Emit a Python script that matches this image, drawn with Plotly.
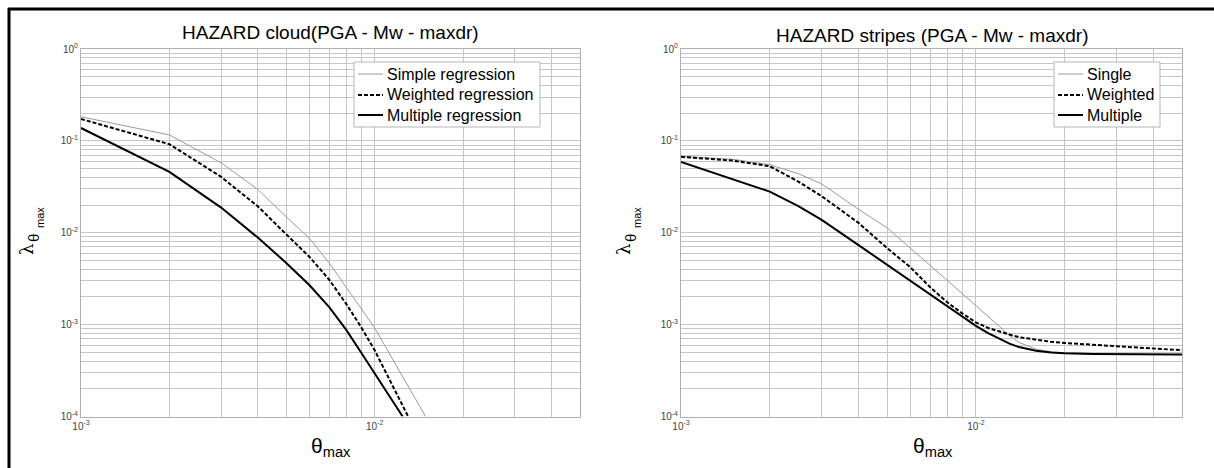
import plotly.graph_objects as go

# ---------------- data ----------------
# Left panel: HAZARD cloud
cloud_x = [0.001, 0.002, 0.003, 0.004, 0.005, 0.006, 0.007, 0.008, 0.009, 0.010]
cloud_simple = [0.183, 0.116, 0.0577, 0.0296, 0.0149, 0.00865, 0.0047, 0.00258, 0.00148, 0.00092]
cloud_weighted = [0.173, 0.092, 0.0406, 0.0194, 0.0096, 0.00545, 0.00308, 0.00168, 0.000935, 0.000525]
cloud_multiple = [0.138, 0.046, 0.0188, 0.00886, 0.00469, 0.00268, 0.00155, 0.000875, 0.000495, 0.000294]
# points where each curve reaches the bottom of the axis
cloud_simple_end = (0.0149, 0.0001)
cloud_weighted_end = (0.0130, 0.0001)
cloud_multiple_end = (0.01245, 0.0001)

# Right panel: HAZARD stripes
stripes_x = [0.001, 0.0015, 0.002, 0.0025, 0.003, 0.004, 0.005, 0.006, 0.007, 0.008, 0.009,
             0.010, 0.011, 0.012, 0.013, 0.014, 0.016, 0.018, 0.020, 0.025, 0.030, 0.040, 0.050]
stripes_single = [0.068, 0.063, 0.055, 0.044, 0.034, 0.018, 0.0113, 0.0067, 0.0044, 0.00303, 0.00218,
                  0.00162, 0.00124, 0.00096, 0.00076, 0.00064, 0.00054, 0.000505, 0.00049, 0.00048, 0.000476, 0.000473, 0.000472]
stripes_weighted = [0.067, 0.061, 0.053, 0.036, 0.025, 0.0128, 0.0068, 0.0042, 0.00255, 0.00175, 0.00132,
                    0.00106, 0.00092, 0.00084, 0.00078, 0.00073, 0.00068, 0.00065, 0.000632, 0.000605, 0.000585, 0.00055, 0.000526]
stripes_multiple = [0.059, 0.0385, 0.028, 0.0195, 0.0138, 0.00733, 0.00449, 0.0030, 0.00212, 0.00157, 0.00122,
                    0.00097, 0.00081, 0.00070, 0.00062, 0.00057, 0.00052, 0.000498, 0.000488, 0.00048, 0.000476, 0.000473, 0.000472]

cloud_names = ["Simple regression", "Weighted regression", "Multiple regression"]
stripes_names = ["Single", "Weighted", "Multiple"]

title_left = "HAZARD cloud(PGA - Mw - maxdr)"
title_right = "HAZARD stripes (PGA - Mw - maxdr)"

x_tickvals = [0.001, 0.01]
x_ticktext = ["10<sup>-3</sup>", "10<sup>-2</sup>"]
y_tickvals = [1e-4, 1e-3, 1e-2, 1e-1, 1]
y_ticktext = ["10<sup>-4</sup>", "10<sup>-3</sup>", "10<sup>-2</sup>", "10<sup>-1</sup>", "10<sup>0</sup>"]

# ---------------- figure ----------------
W, H = 1214, 468
FONT = "Liberation Sans, Arial, sans-serif"


def px(x):
    return x / W


def py(y):
    return 1 - y / H


styles = [
    dict(color="#9a9a9a", width=1),
    dict(color="black", width=2, dash="4px,2px"),
    dict(color="black", width=2),
]

fig = go.Figure()

cloud_ys = [cloud_simple, cloud_weighted, cloud_multiple]
cloud_ends = [cloud_simple_end, cloud_weighted_end, cloud_multiple_end]
for name, ys, end, st in zip(cloud_names, cloud_ys, cloud_ends, styles):
    fig.add_trace(go.Scatter(x=cloud_x + [end[0]], y=ys + [end[1]], mode="lines",
                             name=name, line=st, xaxis="x", yaxis="y", showlegend=False))

stripes_ys = [stripes_single, stripes_weighted, stripes_multiple]
for name, ys, st in zip(stripes_names, stripes_ys, styles):
    fig.add_trace(go.Scatter(x=stripes_x, y=ys, mode="lines",
                             name=name, line=st, xaxis="x2", yaxis="y2", showlegend=False))

grid_col = "#c6c6c6"
axis_common = dict(
    type="log", showgrid=True, gridcolor=grid_col, gridwidth=1,
    minor=dict(dtick="D1", showgrid=True, gridcolor=grid_col, gridwidth=1, ticks=""),
    showline=True, linecolor="#b0b0b0", linewidth=1, mirror=True,
    ticks="", zeroline=False, automargin=False,
    tickfont=dict(family=FONT, size=10, color="#444"),
)

ydom = [py(416.5), py(49)]
fig.update_layout(
    width=W, height=H,
    margin=dict(l=0, r=0, t=0, b=0, autoexpand=False),
    paper_bgcolor="white", plot_bgcolor="white",
    font=dict(family=FONT, color="black"),
    showlegend=False,
    xaxis=dict(domain=[px(81), px(580)], range=[-3, -1.30103], anchor="y",
               tickvals=x_tickvals, ticktext=x_ticktext, **axis_common),
    yaxis=dict(domain=ydom, range=[-4, 0], anchor="x",
               tickvals=y_tickvals, ticktext=y_ticktext, **axis_common),
    xaxis2=dict(domain=[px(681), px(1182)], range=[-3, -1.30103], anchor="y2",
                tickvals=x_tickvals, ticktext=x_ticktext, **axis_common),
    yaxis2=dict(domain=ydom, range=[-4, 0], anchor="x2",
                tickvals=y_tickvals, ticktext=y_ticktext, **axis_common),
)

annotations = [
    dict(text=title_left, x=px(330), y=py(33),
         font=dict(family=FONT, size=19, color="black")),
    dict(text=title_right, x=px(932), y=py(36),
         font=dict(family=FONT, size=19, color="black")),
    # x axis titles
    dict(text="θ<sub>max</sub>", x=px(331), y=py(447),
         font=dict(family=FONT, size=21, color="black")),
    dict(text="θ<sub>max</sub>", x=px(933), y=py(447),
         font=dict(family=FONT, size=21, color="black")),
    # y axis titles (lambda with nested subscripts)
    dict(text="λ", x=px(26), y=py(250), textangle=-90,
         font=dict(family="DejaVu Serif", size=18, color="black")),
    dict(text="θ", x=px(33), y=py(238), textangle=-90,
         font=dict(family=FONT, size=15, color="black")),
    dict(text="max", x=px(40), y=py(218), textangle=-90,
         font=dict(family=FONT, size=11, color="black")),
    dict(text="λ", x=px(623), y=py(250), textangle=-90,
         font=dict(family="DejaVu Serif", size=18, color="black")),
    dict(text="θ", x=px(630), y=py(238), textangle=-90,
         font=dict(family=FONT, size=15, color="black")),
    dict(text="max", x=px(637), y=py(218), textangle=-90,
         font=dict(family=FONT, size=11, color="black")),
]

shapes = []
# hand-drawn legends (box, line samples, labels)
legend_specs = [
    dict(names=cloud_names, box=(354, 62, 540, 127), line_x=(358, 383), text_x=385),
    dict(names=stripes_names, box=(1054, 62, 1160, 127), line_x=(1058, 1083), text_x=1085),
]
row_y = [74, 95, 115]
for spec in legend_specs:
    x0, y0, x1, y1 = spec["box"]
    shapes.append(dict(type="rect", x0=px(x0), x1=px(x1), y0=py(y1), y1=py(y0),
                       line=dict(color="#b5b5b5", width=1), fillcolor="white", layer="above"))
    for name, st, ry in zip(spec["names"], styles, row_y):
        shapes.append(dict(type="line", x0=px(spec["line_x"][0]), x1=px(spec["line_x"][1]),
                           y0=py(ry), y1=py(ry), line=st, layer="above"))
        annotations.append(dict(text=name, x=px(spec["text_x"]), y=py(ry), xanchor="left",
                                font=dict(family=FONT, size=16, color="black")))

# black frame (top and left edges)
shapes.append(dict(type="line", x0=px(8), x1=1, y0=py(9), y1=py(9),
                   line=dict(color="black", width=3)))
shapes.append(dict(type="line", x0=px(9), x1=px(9), y0=py(8), y1=0,
                   line=dict(color="black", width=3)))

for s in shapes:
    s.update(xref="paper", yref="paper")
for a in annotations:
    a.setdefault("xanchor", "center")
    a.update(xref="paper", yref="paper", showarrow=False, yanchor="middle")

fig.update_layout(annotations=annotations, shapes=shapes)

fig.write_html("out.html")
